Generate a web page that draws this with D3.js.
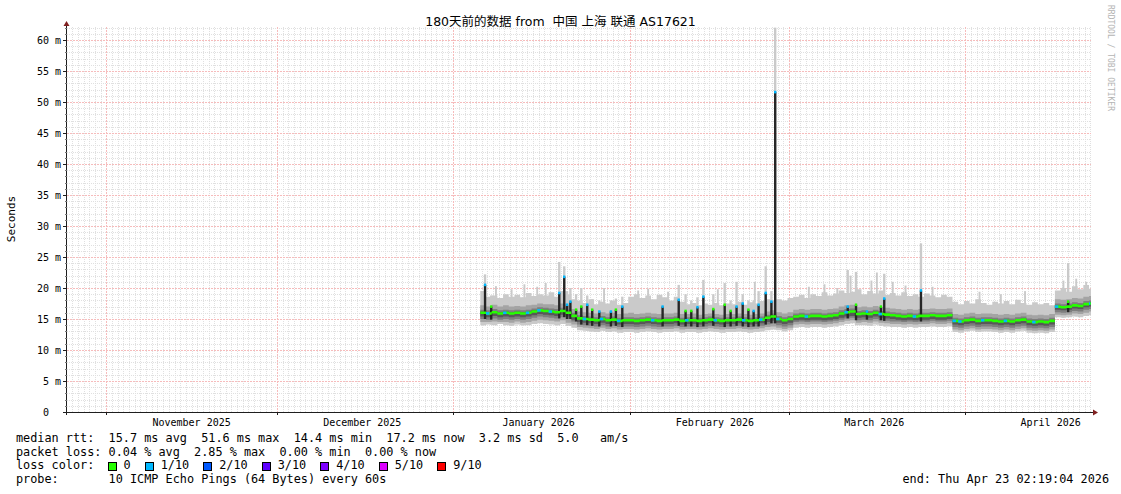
<!DOCTYPE html>
<html><head><meta charset="utf-8">
<script src="https://cdn.jsdelivr.net/npm/d3@7"></script>
<style>
html,body{margin:0;padding:0;background:#fff;}
svg{display:block;}
text{white-space:pre;}
</style></head><body>
<svg id="chart" width="1121" height="494"></svg>
<script>
// ---------------- DATA ----------------
const titleText = "180天前的数据 from  中国 上海 联通 AS17621";
const timeStart = "2025-10-25T02:19:04Z";
const timeEnd   = "2026-04-23T02:19:04Z";
const yMax = 62.1;
const yTicks = [0,5,10,15,20,25,30,35,40,45,50,55,60];
const yTickLabels = ["0","5 m","10 m","15 m","20 m","25 m","30 m","35 m","40 m","45 m","50 m","55 m","60 m"];
const monthStarts = ["2025-11-01","2025-12-01","2026-01-01","2026-02-01","2026-03-01","2026-04-01"];
const monthLabels = ["November 2025","December 2025","January 2026","February 2026","March 2026","April 2026"];

// daily steps starting 2026-01-05 18:00 (one value per day)
const firstStep = "2026-01-05T18:00:00Z";
// median rtt (ms)
const med = [
 16.0,15.9,16.1,15.9,16.0,15.9,16.0,15.9,16.0,16.2,16.4,16.3,16.2,16.1,16.3,16.0,15.5,
 15.1,15.0,14.9,14.8,15.0,14.8,14.9,14.7,14.8,
 14.8,14.7,14.8,14.9,14.8,14.7,14.8,14.8,14.9,14.7,14.8,14.8,14.7,14.8,14.9,14.8,14.7,14.8,14.8,14.9,14.8,14.7,14.8,14.9,15.2,15.4,
 15.0,14.8,15.0,
 15.4,15.5,15.4,15.5,15.5,15.4,15.5,15.6,15.9,16.1,16.2,15.8,15.9,15.8,16.0,15.8,15.7,15.6,15.5,15.4,15.5,15.4,15.5,15.5,15.6,15.5,15.5,15.6,
 14.7,14.6,14.8,14.9,14.7,14.8,14.8,14.7,14.6,14.7,14.6,14.8,14.9,14.6,14.5,14.6,14.5,14.7,
 17.0,16.9,17.0,17.2,17.1,17.4,17.5,17.7];
// sorted ping quantiles (ms): p1 lowest ... p10 highest
const p1 = [
 14.0,14.1,14.0,14.2,14.0,13.9,14.1,14.0,14.0,14.2,14.3,14.2,14.1,14.0,14.2,13.9,13.6,
 13.2,13.1,13.0,12.9,13.1,12.9,13.0,12.8,12.9,
 12.9,12.8,12.9,13.0,12.9,12.8,12.9,12.9,13.0,12.8,12.9,12.9,12.8,12.9,13.0,12.9,12.8,12.9,12.9,13.0,12.9,12.8,12.9,13.0,13.2,13.3,
 13.2,13.0,13.2,
 13.6,13.7,13.6,13.7,13.7,13.6,13.7,13.8,14.0,14.2,14.3,14.0,14.0,13.9,14.1,13.9,13.8,13.7,13.7,13.6,13.7,13.6,13.7,13.7,13.8,13.7,13.7,13.8,
 12.9,12.8,13.0,13.1,12.9,13.0,13.0,12.9,12.8,12.9,12.8,13.0,13.1,12.8,12.7,12.8,12.7,12.9,
 15.3,15.2,15.3,15.4,15.3,15.5,15.6,15.8];
const p2 = [
 14.5,14.5,14.6,14.5,14.5,14.4,14.6,14.4,14.5,14.7,14.9,14.8,14.7,14.6,14.8,14.4,14.1,
 13.7,13.6,13.5,13.4,13.6,13.4,13.5,13.3,13.4,
 13.4,13.3,13.4,13.5,13.4,13.3,13.4,13.4,13.5,13.3,13.4,13.4,13.3,13.4,13.5,13.4,13.3,13.4,13.4,13.5,13.4,13.3,13.4,13.5,13.7,13.8,
 13.6,13.4,13.6,
 14.1,14.2,14.1,14.2,14.2,14.1,14.2,14.3,14.5,14.7,14.8,14.4,14.5,14.4,14.6,14.4,14.3,14.2,14.2,14.1,14.2,14.1,14.2,14.2,14.3,14.2,14.2,14.3,
 13.3,13.2,13.4,13.5,13.3,13.4,13.4,13.3,13.2,13.3,13.2,13.4,13.5,13.2,13.1,13.2,13.1,13.3,
 15.7,15.6,15.7,15.9,15.8,16.0,16.2,16.4];
const p3 = [
 15.0,14.9,15.1,14.9,15.0,14.9,15.0,14.9,15.0,15.2,15.4,15.3,15.2,15.1,15.3,15.0,14.6,
 14.1,14.0,13.9,13.8,14.0,13.8,13.9,13.7,13.8,
 13.8,13.7,13.8,13.9,13.8,13.7,13.8,13.8,13.9,13.7,13.8,13.8,13.7,13.8,13.9,13.8,13.7,13.8,13.8,13.9,13.8,13.7,13.8,13.9,14.1,14.3,
 14.0,13.8,14.0,
 14.5,14.6,14.5,14.6,14.6,14.5,14.6,14.7,14.9,15.1,15.2,14.8,14.9,14.8,15.0,14.8,14.7,14.6,14.6,14.5,14.6,14.5,14.6,14.6,14.7,14.6,14.6,14.7,
 13.7,13.6,13.8,13.9,13.7,13.8,13.8,13.7,13.6,13.7,13.6,13.8,13.9,13.6,13.5,13.6,13.5,13.7,
 16.1,16.0,16.1,16.3,16.2,16.5,16.6,16.8];
const p4 = [
 15.4,15.3,15.5,15.3,15.4,15.3,15.4,15.3,15.4,15.6,15.8,15.7,15.6,15.5,15.7,15.4,14.9,
 14.5,14.4,14.3,14.2,14.4,14.2,14.3,14.1,14.2,
 14.2,14.1,14.2,14.3,14.2,14.1,14.2,14.2,14.3,14.1,14.2,14.2,14.1,14.2,14.3,14.2,14.1,14.2,14.2,14.3,14.2,14.1,14.2,14.3,14.5,14.7,
 14.4,14.2,14.4,
 14.8,14.9,14.8,14.9,14.9,14.8,14.9,15.0,15.2,15.4,15.5,15.2,15.3,15.2,15.4,15.2,15.1,15.0,14.9,14.8,14.9,14.8,14.9,14.9,15.0,14.9,14.9,15.0,
 14.1,14.0,14.2,14.3,14.1,14.2,14.2,14.1,14.0,14.1,14.0,14.2,14.3,14.0,13.9,14.0,13.9,14.1,
 16.5,16.4,16.5,16.7,16.6,16.9,17.0,17.2];
const p7 = [
 16.2,16.1,16.3,16.1,16.2,16.1,16.2,16.1,16.2,16.4,16.6,16.5,16.4,16.3,16.5,16.2,15.7,
 15.3,15.2,15.1,15.0,15.2,15.0,15.1,14.9,15.0,
 15.0,14.9,15.0,15.1,15.0,14.9,15.0,15.0,15.1,14.9,15.0,15.0,14.9,15.0,15.1,15.0,14.9,15.0,15.0,15.1,15.0,14.9,15.0,15.1,15.4,15.6,
 15.2,15.0,15.2,
 15.6,15.7,15.6,15.7,15.7,15.6,15.7,15.8,16.1,16.3,16.4,16.0,16.1,16.0,16.2,16.0,15.9,15.8,15.7,15.6,15.7,15.6,15.7,15.7,15.8,15.7,15.7,15.8,
 14.9,14.8,15.0,15.1,14.9,15.0,15.0,14.9,14.8,14.9,14.8,15.0,15.1,14.8,14.7,14.8,14.7,14.9,
 17.2,17.1,17.2,17.4,17.3,17.6,17.7,17.9];
const p8 = [
 16.5,16.4,16.6,16.4,16.5,16.4,16.5,16.4,16.5,16.7,16.9,16.8,16.7,16.6,16.8,16.5,16.0,
 15.6,15.5,15.4,15.3,15.5,15.3,15.4,15.2,15.3,
 15.3,15.2,15.3,15.4,15.3,15.2,15.3,15.3,15.4,15.2,15.3,15.3,15.2,15.3,15.4,15.3,15.2,15.3,15.3,15.4,15.3,15.2,15.3,15.4,15.7,15.9,
 15.5,15.3,15.5,
 15.9,16.0,15.9,16.0,16.0,15.9,16.0,16.1,16.4,16.6,16.7,16.3,16.4,16.3,16.5,16.3,16.2,16.1,16.0,15.9,16.0,15.9,16.0,16.0,16.1,16.0,16.0,16.1,
 15.2,15.1,15.3,15.4,15.2,15.3,15.3,15.2,15.1,15.2,15.1,15.3,15.4,15.1,15.0,15.1,15.0,15.2,
 17.5,17.4,17.5,17.7,17.6,17.9,18.0,18.2];
const p9 = [
 17.2,17.0,17.3,17.0,17.2,17.0,17.1,17.0,17.2,17.3,17.5,17.4,17.4,17.2,17.5,17.1,16.6,
 16.2,16.1,16.0,15.9,16.1,15.9,16.0,15.8,15.9,
 16.0,15.8,15.9,16.0,15.9,15.8,15.9,15.9,16.0,15.8,15.8,15.9,15.7,15.8,15.9,15.8,15.7,15.8,15.8,15.9,15.8,15.7,15.8,15.9,16.2,16.4,
 16.1,15.9,16.1,
 16.5,16.6,16.5,16.6,16.6,16.5,16.6,16.7,17.0,17.2,17.3,16.9,17.0,16.9,17.1,16.9,16.8,16.7,16.6,16.5,16.6,16.5,16.6,16.6,16.7,16.6,16.6,16.7,
 15.8,15.7,15.9,16.0,15.8,15.9,15.9,15.8,15.7,15.8,15.7,15.9,16.0,15.7,15.6,15.7,15.6,15.8,
 18.2,18.1,18.2,18.4,18.3,18.6,18.7,18.9];
const p10 = [
 19.5,18.6,18.8,18.4,19.0,18.6,18.9,18.5,19.2,18.7,19.0,18.8,19.3,18.6,19.5,19.0,18.2,
 18.0,17.6,18.2,17.4,17.8,17.5,18.0,17.3,17.6,
 18.6,19.0,18.4,18.8,18.2,18.9,18.5,18.0,18.6,17.8,17.4,17.6,17.2,17.5,17.3,17.6,17.2,17.5,17.4,17.8,17.3,17.7,17.5,17.9,18.2,18.0,
 18.2,18.0,18.4,
 18.6,18.9,18.4,19.0,18.7,19.3,18.8,19.1,19.6,19.2,19.4,19.8,19.0,19.5,19.1,19.6,18.9,19.2,18.8,19.3,18.7,19.0,18.6,19.1,18.8,18.5,18.9,18.6,
 17.8,17.4,17.9,17.5,18.2,17.6,17.3,17.8,17.5,17.9,17.4,18.1,17.6,17.3,17.7,17.4,17.6,17.2,
 19.6,20.0,19.4,20.3,19.8,20.5,19.9,20.2];
// lost pings out of 10 (loss colour class)
const loss = [
 0,1,0,0,1,0,0,0,1,0,1,0,1,0,0,0,0,
 0,1,0,0,1,0,0,1,0,
 0,0,0,0,1,0,0,0,0,0,1,0,0,0,0,1,0,0,0,0,1,0,0,1,0,0,
 1,0,0,
 0,0,1,0,0,0,0,0,0,1,0,0,0,0,0,1,0,0,0,0,0,1,0,0,0,0,0,0,
 1,1,0,0,0,1,0,0,0,1,0,0,0,0,1,0,0,0,
 1,0,0,0,0,0,1,1];

// short latency bursts: time, median, highest ping, loss
const spikeTimes = ["2026-01-06T14:00","2026-01-07T16:00","2026-01-19T15:00","2026-01-20T12:00","2026-01-21T00:00","2026-01-21T14:00","2026-01-22T14:00","2026-01-23T12:00","2026-01-24T13:00","2026-01-25T10:00","2026-01-26T16:00","2026-01-28T17:00","2026-01-29T14:00","2026-01-30T17:00",
 "2026-02-06T19:00","2026-02-09T15:00","2026-02-10T20:00","2026-02-11T20:00","2026-02-12T22:00","2026-02-13T23:00","2026-02-15T17:00","2026-02-17T17:00","2026-02-18T18:00","2026-02-19T19:00","2026-02-20T21:00","2026-02-21T21:00","2026-02-22T19:00","2026-02-23T16:00","2026-02-24T22:00","2026-02-25T22:00","2026-02-26T14:00",
 "2026-03-11T08:00","2026-03-12T19:00","2026-03-14T17:00","2026-03-17T04:00","2026-03-17T18:00","2026-03-24T05:00","2026-04-19T02:00"];
const spikeMed = [20.5,17.0,19.2,21.8,17.3,17.8,16.5,17.0,17.3,16.5,16.2,16.2,16.5,17.0,
 17.0,18.1,16.3,16.3,16.9,18.6,16.6,17.3,16.3,17.0,17.5,16.5,16.3,17.3,19.2,17.8,51.6,
 17.0,17.3,16.2,17.0,18.3,19.6,17.8];
const spikeMax = [22.2,18.8,24.2,23.5,19.5,20.0,19.0,20.0,18.8,18.2,18.0,18.0,18.3,18.6,
 18.2,20.5,19.0,18.0,18.5,21.3,19.0,20.8,18.0,21.0,19.0,18.0,18.0,19.5,23.5,19.5,62.0,
 22.9,22.6,18.0,19.5,22.3,27.2,24.0];
const spikeLoss = [1,0,1,1,1,1,0,0,1,0,1,1,0,1,
 1,1,0,0,1,1,0,0,0,1,1,0,1,1,1,1,1,
 1,0,1,0,1,1,0];
// isolated high pings (light smoke only): time, highest ping
const peakTimes = ["2026-01-08T12:00","2026-01-11T06:00","2026-01-13T12:00","2026-01-15T18:00","2026-01-17T06:00","2026-01-27T12:00",
 "2026-02-02T12:00","2026-02-04T06:00","2026-02-07T18:00","2026-02-16T12:00","2026-02-23T00:00",
 "2026-03-04T12:00","2026-03-07T06:00","2026-03-09T12:00","2026-03-11T20:00","2026-03-15T12:00","2026-03-16T11:00","2026-03-19T06:00","2026-03-21T12:00","2026-03-26T06:00",
 "2026-04-03T12:00","2026-04-07T06:00","2026-04-11T12:00","2026-04-18T06:00","2026-04-20T12:00","2026-04-22T06:00"];
const peakMax = [20.3,19.8,20.6,20.2,20.8,20.0,
 19.6,19.9,19.4,19.8,21.0,
 20.2,20.6,20.0,22.0,21.2,22.5,21.0,20.4,20.2,
 19.4,19.0,19.5,21.2,21.5,21.0];

const lossLabels = ["0","1/10","2/10","3/10","4/10","5/10","9/10"];
const lossColors = ["#26ff00","#00b8ff","#0059ff","#5e00ff","#7e00ff","#dd00ff","#ff0000"];
const rttStats = ["15.7 ms avg","51.6 ms max","14.4 ms min","17.2 ms now","3.2 ms sd","5.0   am/s"];
const lossStats = ["0.04 % avg","2.85 % max","0.00 % min","0.00 % now"];
const probeText = "10 ICMP Echo Pings (64 Bytes) every 60s";
const endText = "end: Thu Apr 23 02:19:04 2026";

// ---------------- DRAW ----------------
const svg = d3.select("#chart");
const X0 = 67, X1 = 1091, YTOP = 27, YBASE = 412;
const tStart = new Date(timeStart), tEnd = new Date(timeEnd);
const x = d3.scaleUtc().domain([tStart, tEnd]).range([X0, X1]);
const y = d3.scaleLinear().domain([0, yMax]).range([YBASE, YTOP]);
const MONO = "'DejaVu Sans Mono','Liberation Mono',monospace";
const SANS = "'DejaVu Sans','Noto Sans CJK SC',sans-serif";
const px = v => Math.round(v) + 0.5;

svg.append("rect").attr("width",1121).attr("height",494).attr("fill","#ffffff");

// grid
const minorC = "#e0e0e0", majorC = "#f6bcbc";
const months = monthStarts.map(s => new Date(s + "T00:00:00Z"));
const monthSet = new Set(months.map(d => +d));
const days = d3.utcDay.range(d3.utcDay.ceil(tStart), tEnd).filter(d => !monthSet.has(+d));
const hMinor = d3.range(1, Math.floor(yMax) + 1).filter(v => v % 5 !== 0);
const gMinor = svg.append("g").attr("shape-rendering","crispEdges")
  .attr("stroke", minorC).attr("stroke-dasharray","1 1");
gMinor.selectAll("line").data(days).join("line")
  .attr("x1", d => px(x(d))).attr("x2", d => px(x(d)))
  .attr("y1", YTOP).attr("y2", YBASE);
const gMinorH = svg.append("g").attr("shape-rendering","crispEdges")
  .attr("stroke", minorC).attr("stroke-dasharray","1 1");
gMinorH.selectAll("line").data(hMinor).join("line")
  .attr("x1", X0).attr("x2", X1)
  .attr("y1", v => px(y(v))).attr("y2", v => px(y(v)));
const gMajor = svg.append("g").attr("shape-rendering","crispEdges")
  .attr("stroke", majorC).attr("stroke-dasharray","2 1");
gMajor.selectAll("line.v").data(months).join("line").attr("class","v")
  .attr("x1", d => px(x(d))).attr("x2", d => px(x(d)))
  .attr("y1", YTOP).attr("y2", YBASE);
gMajor.selectAll("line.h").data(yTicks.filter(v => v > 0)).join("line").attr("class","h")
  .attr("x1", X0).attr("x2", X1)
  .attr("y1", v => px(y(v))).attr("y2", v => px(y(v)));

// smoke
svg.append("defs").append("clipPath").attr("id","plotclip")
  .append("rect").attr("x",X0).attr("y",YTOP).attr("width",X1-X0).attr("height",YBASE-YTOP);
const plot = svg.append("g").attr("clip-path","url(#plotclip)");
const N = med.length;
const stepStart = new Date(firstStep);
const stepT = i => { const t = d3.utcHour.offset(stepStart, 24 * i); return t > tEnd ? tEnd : t; };
const dayOf = t => Math.max(0, Math.min(N - 1, Math.floor((t - stepStart) / 864e5)));
const idx = d3.range(N + 1);
const at = (arr, i) => arr[Math.min(i, N - 1)];
const halfW = (x(d3.utcHour.offset(tStart, 10)) - x(tStart)) / 2;
const peakHalf = (x(d3.utcHour.offset(tStart, 8)) - x(tStart)) / 2;

const spikes = spikeTimes.map((s, k) => ({t: new Date(s + ":00Z"), med: spikeMed[k], max: spikeMax[k], loss: spikeLoss[k]}));
const peaks = peakTimes.map((s, k) => ({t: new Date(s + ":00Z"), max: peakMax[k]}));

// light columns (behind bands)
plot.selectAll("rect.peak").data(peaks).join("rect").attr("class","peak")
  .attr("x", d => x(d.t) - peakHalf).attr("width", peakHalf * 2)
  .attr("y", d => y(d.max)).attr("height", d => y(p1[dayOf(d.t)]) - y(d.max))
  .attr("fill", "#cacaca");
plot.selectAll("rect.sp").data(spikes).join("rect").attr("class","sp")
  .attr("x", d => x(d.t) - halfW).attr("width", halfW * 2)
  .attr("y", d => y(d.max)).attr("height", d => y(p1[dayOf(d.t)]) - y(d.max))
  .attr("fill", "#cacaca");

const bands = [[p1, p10, "#cacaca"], [p2, p9, "#a4a4a4"], [p3, p8, "#7e7e7e"], [p4, p7, "#585858"]];
bands.forEach(([lo, hi, c]) => {
  const area = d3.area().curve(d3.curveStepAfter)
    .x(i => x(stepT(i))).y0(i => y(at(lo, i))).y1(i => y(at(hi, i)));
  plot.append("path").datum(idx).attr("d", area).attr("fill", c);
});

// dark columns of bursts
plot.selectAll("rect.spd").data(spikes).join("rect").attr("class","spd")
  .attr("x", d => x(d.t) - halfW).attr("width", halfW * 2)
  .attr("y", d => y(d.med)).attr("height", d => y(p3[dayOf(d.t)]) - y(d.med))
  .attr("fill", "#262626");

// median marks coloured by loss
const medArea = d3.area().curve(d3.curveStepAfter)
  .x(i => x(stepT(i))).y0(i => y(at(med, i)) + 1.3).y1(i => y(at(med, i)) - 1.3);
plot.append("path").datum(idx).attr("d", medArea).attr("fill", lossColors[0]);
plot.selectAll("rect.ml").data(d3.range(N).filter(i => loss[i] > 0)).join("rect").attr("class","ml")
  .attr("x", i => x(stepT(i))).attr("width", i => (x(stepT(i + 1)) - x(stepT(i))) * 0.6)
  .attr("y", i => y(med[i]) - 1.3).attr("height", 2.6)
  .attr("fill", i => lossColors[loss[i]]);
plot.selectAll("rect.sm").data(spikes).join("rect").attr("class","sm")
  .attr("x", d => x(d.t) - halfW).attr("width", halfW * 2)
  .attr("y", d => y(d.med) - 1.3).attr("height", 2.6)
  .attr("fill", d => lossColors[d.loss]);

// axes
const axC = "#1e1e1e", arrowC = "#802020";
svg.append("line").attr("x1", X0 - 4).attr("x2", X1 + 3).attr("y1", px(YBASE)).attr("y2", px(YBASE))
  .attr("stroke", axC);
svg.append("line").attr("x1", px(X0) - 1).attr("x2", px(X0) - 1).attr("y1", YBASE + 3).attr("y2", YTOP - 2)
  .attr("stroke", axC);
svg.append("path").attr("d", `M${X0 - 3.5},${YTOP - 1} L${X0 + 2.5},${YTOP - 1} L${X0 - 0.5},${YTOP - 6} Z`).attr("fill", arrowC);
svg.append("path").attr("d", `M${X1 + 2},${YBASE - 2.5} L${X1 + 2},${YBASE + 3.5} L${X1 + 7},${YBASE + 0.5} Z`).attr("fill", arrowC);
// ticks
const gt = svg.append("g").attr("shape-rendering","crispEdges");
gt.selectAll("line.ytk").data(yTicks.filter(v => v > 0)).join("line").attr("class","ytk")
  .attr("x1", X0 - 4).attr("x2", X0).attr("y1", v => px(y(v))).attr("y2", v => px(y(v))).attr("stroke", axC);
gt.selectAll("line.ytm").data(hMinor).join("line").attr("class","ytm")
  .attr("x1", X0 - 2).attr("x2", X0).attr("y1", v => px(y(v))).attr("y2", v => px(y(v))).attr("stroke", "#777");
gt.selectAll("line.xtk").data(months).join("line").attr("class","xtk")
  .attr("x1", d => px(x(d))).attr("x2", d => px(x(d))).attr("y1", YBASE).attr("y2", YBASE + 3).attr("stroke", axC);

// y labels
svg.selectAll("text.yl").data(yTicks).join("text").attr("class","yl")
  .attr("x", v => v === 0 ? 61 - 2 * 6.02 : 61).attr("y", v => y(v) + 3.6)
  .attr("text-anchor", "end").style("font-family", MONO).style("font-size", "10px").attr("fill", "#000")
  .text((v, k) => yTickLabels[k]);
// x labels
svg.selectAll("text.xl").data(months).join("text").attr("class","xl")
  .attr("x", d => x(d3.utcDay.offset(d, 15))).attr("y", 425.5)
  .attr("text-anchor", "middle").style("font-family", MONO).style("font-size", "10px").attr("fill", "#000")
  .text((d, k) => monthLabels[k]);

// title, unit, watermark
svg.append("text").attr("x", 560.5).attr("y", 26).attr("text-anchor", "middle")
  .style("font-family", SANS).style("font-size", "12.5px").attr("fill", "#000").text(titleText);
svg.append("text").attr("transform", "translate(15,219) rotate(-90)").attr("text-anchor", "middle")
  .style("font-family", MONO).style("font-size", "11px").attr("fill", "#000").text("Seconds");
svg.append("text").attr("transform", "translate(1108,5) rotate(90)").attr("text-anchor", "start")
  .style("font-family", MONO).style("font-size", "8px").attr("fill", "#b4b4b4").text("RRDTOOL / TOBI OETIKER");

// legend
const LF = "11.83px";
const leg = (t, xx, yy, anchor) => svg.append("text").attr("x", xx).attr("y", yy)
  .attr("text-anchor", anchor || "start").attr("xml:space", "preserve")
  .style("font-family", MONO).style("font-size", LF).attr("fill", "#000").text(t);
leg("median rtt:  " + rttStats.join("  "), 16, 442);
leg("packet loss: " + lossStats.join("  "), 16, 455.5);
const l3 = leg("loss color:  ", 16, 469);
let cx = 16 + l3.node().getComputedTextLength();
lossLabels.forEach((lab, k) => {
  svg.append("rect").attr("x", Math.round(cx) - 0.5).attr("y", 462.5).attr("width", 8).attr("height", 8)
    .attr("fill", lossColors[k]).attr("stroke", "#000");
  const tt = leg(lab, cx + 15, 469);
  cx = cx + 15 + tt.node().getComputedTextLength() + 15;
});
leg("probe:       " + probeText, 16, 482.5);
leg(endText, 902.5, 482.5);
</script>
</body></html>
